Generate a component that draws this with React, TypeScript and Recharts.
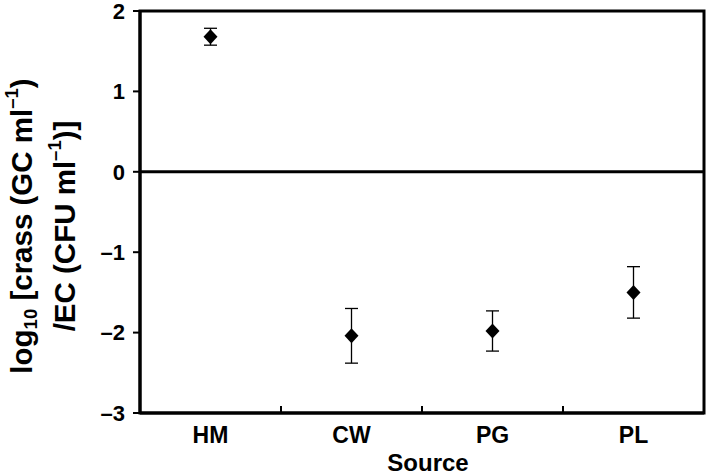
import React from "react"
import {
    ScatterChart,
    Scatter,
    XAxis,
    YAxis,
    ErrorBar,
    ReferenceLine,
    ReferenceArea,
} from "recharts"

// values
const sources = ["HM", "CW", "PG", "PL"]
const logRatio = [1.68, -2.04, -1.98, -1.5]
const errors = [0.105, 0.34, 0.25, 0.32]
const yTicks = [-3, -2, -1, 0, 1, 2]

const rows = sources.map((name, i) => ({ name, mean: logRatio[i], err: errors[i] }))

const FONT = "'Liberation Sans', Arial, Helvetica, sans-serif"
const INK = "#000"

const fmtY = (v: number) => (v < 0 ? "\u2013" + Math.abs(v) : String(v))

function Diamond(props: any) {
    const { cx, cy } = props
    const r = 7.5
    return (
        <polygon
            points={`${cx},${cy - r} ${cx + r - 0.5},${cy} ${cx},${cy + r} ${cx - r + 0.5},${cy}`}
            fill={INK}
        />
    )
}

// category label plus a short inward tick on the band's right edge
function SourceTick(props: any) {
    const { x, y, payload, index } = props
    const axisY = y - 14
    const edge = x + (payload.offset || 0)
    return (
        <g>
            <text x={x} y={y} dy="0.71em" textAnchor="middle" fill={INK}
                fontSize={23} fontWeight="bold" fontFamily={FONT}>
                {payload.value}
            </text>
            {index < sources.length - 1 && (
                <line x1={edge} x2={edge} y1={axisY} y2={axisY - 7} stroke={INK} strokeWidth={2} />
            )}
        </g>
    )
}

function YTitle(props: any) {
    const vb = props.viewBox || {}
    const cy = vb.y + vb.height / 2 + 14
    const big = 29.5
    const small = 18.5
    return (
        <g fontFamily={FONT} fontWeight="bold" fill={INK}>
            <text transform="rotate(-90)" x={-cy} y={32} textAnchor="middle" fontSize={big}>
                <tspan>log</tspan>
                <tspan fontSize={small} dy={5}>10</tspan>
                <tspan dy={-5}> [crass (GC ml</tspan>
                <tspan fontSize={small} dy={-14}>{"\u20131"}</tspan>
                <tspan dy={14}>)</tspan>
            </text>
            <text transform="rotate(-90)" x={-cy} y={75} textAnchor="middle" fontSize={big}>
                <tspan>/EC (CFU ml</tspan>
                <tspan fontSize={small} dy={-14}>{"\u20131"}</tspan>
                <tspan dy={14}>)]</tspan>
            </text>
        </g>
    )
}

export default function App() {
    return (
        <div style={{ width: 709, height: 475, background: "#fff" }}>
            <style>{`body{margin:0}`}</style>
            <ScatterChart width={709} height={475} margin={{ top: 11, right: 5, bottom: 0, left: 0 }}>
                <XAxis
                    xAxisId="cat"
                    type="category"
                    dataKey="name"
                    height={62}
                    tickLine={false}
                    tickSize={0}
                    tickMargin={14}
                    axisLine={{ stroke: INK, strokeWidth: 3 }}
                    tick={<SourceTick />}
                    label={{
                        value: "Source",
                        position: "insideBottom",
                        offset: 4,
                        dx: 6,
                        fill: INK,
                        fontSize: 24,
                        fontWeight: "bold",
                        fontFamily: FONT,
                    }}
                />
                <YAxis
                    yAxisId="y"
                    type="number"
                    dataKey="mean"
                    domain={[-3, 2]}
                    ticks={yTicks}
                    interval={0}
                    width={140}
                    tickSize={7}
                    tickMargin={8}
                    tickFormatter={fmtY}
                    axisLine={{ stroke: INK, strokeWidth: 3 }}
                    tickLine={{ stroke: INK, strokeWidth: 2 }}
                    tick={{ fill: INK, fontSize: 22, fontWeight: "bold", fontFamily: FONT }}
                    label={{ content: YTitle }}
                />
                {/* plot frame */}
                <ReferenceArea
                    xAxisId="cat"
                    yAxisId="y"
                    x1={sources[0]}
                    x2={sources[sources.length - 1]}
                    y1={yTicks[0]}
                    y2={yTicks[yTicks.length - 1]}
                    fill="none"
                    fillOpacity={0}
                    stroke={INK}
                    strokeWidth={3}
                />
                <ReferenceLine xAxisId="cat" yAxisId="y" y={0} stroke={INK} strokeWidth={3} />
                <Scatter
                    xAxisId="cat"
                    yAxisId="y"
                    data={rows}
                    dataKey="mean"
                    shape={Diamond}
                    isAnimationActive={false}
                >
                    <ErrorBar
                        dataKey="err"
                        direction="y"
                        width={6.5}
                        stroke={INK}
                        strokeWidth={1.3}
                        isAnimationActive={false}
                    />
                </Scatter>
            </ScatterChart>
        </div>
    )
}
